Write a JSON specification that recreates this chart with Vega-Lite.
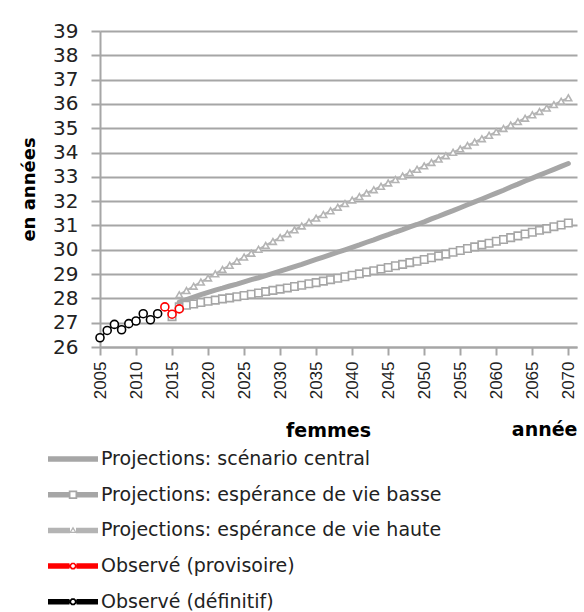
{
  "$schema": "https://vega.github.io/schema/vega-lite/v6.json",
  "width": 477,
  "height": 316,
  "autosize": {"type": "none"},
  "padding": {"left": 100, "top": 31, "right": 7, "bottom": 265},
  "background": "white",
  "title": {"text": "femmes", "orient": "bottom", "frame": "group", "anchor": "middle", "offset": 72, "dx": -10, "dy": -263, "font": "DejaVu Sans", "fontSize": 19, "fontWeight": "bold", "color": "black", "baseline": "top"},
  "config": {"view": {"stroke": null}},
  "datasets": {
    "central": [
      {"year": 2016, "value": 27.85}, {"year": 2017, "value": 27.95}, {"year": 2018, "value": 28.05}, {"year": 2019, "value": 28.15}, {"year": 2020, "value": 28.25},
      {"year": 2021, "value": 28.34}, {"year": 2022, "value": 28.42}, {"year": 2023, "value": 28.51}, {"year": 2024, "value": 28.59}, {"year": 2025, "value": 28.68},
      {"year": 2026, "value": 28.77}, {"year": 2027, "value": 28.85}, {"year": 2028, "value": 28.94}, {"year": 2029, "value": 29.03}, {"year": 2030, "value": 29.12},
      {"year": 2031, "value": 29.21}, {"year": 2032, "value": 29.31}, {"year": 2033, "value": 29.4}, {"year": 2034, "value": 29.5}, {"year": 2035, "value": 29.6},
      {"year": 2036, "value": 29.7}, {"year": 2037, "value": 29.8}, {"year": 2038, "value": 29.9}, {"year": 2039, "value": 30.0}, {"year": 2040, "value": 30.1},
      {"year": 2041, "value": 30.2}, {"year": 2042, "value": 30.31}, {"year": 2043, "value": 30.41}, {"year": 2044, "value": 30.52}, {"year": 2045, "value": 30.62},
      {"year": 2046, "value": 30.73}, {"year": 2047, "value": 30.83}, {"year": 2048, "value": 30.94}, {"year": 2049, "value": 31.04}, {"year": 2050, "value": 31.15},
      {"year": 2051, "value": 31.27}, {"year": 2052, "value": 31.38}, {"year": 2053, "value": 31.5}, {"year": 2054, "value": 31.61}, {"year": 2055, "value": 31.73},
      {"year": 2056, "value": 31.85}, {"year": 2057, "value": 31.97}, {"year": 2058, "value": 32.09}, {"year": 2059, "value": 32.21}, {"year": 2060, "value": 32.33},
      {"year": 2061, "value": 32.45}, {"year": 2062, "value": 32.58}, {"year": 2063, "value": 32.7}, {"year": 2064, "value": 32.83}, {"year": 2065, "value": 32.95},
      {"year": 2066, "value": 33.07}, {"year": 2067, "value": 33.19}, {"year": 2068, "value": 33.31}, {"year": 2069, "value": 33.43}, {"year": 2070, "value": 33.55}
    ],
    "basse": [
      {"year": 2015, "value": 27.25}, {"year": 2016, "value": 27.65}, {"year": 2017, "value": 27.72}, {"year": 2018, "value": 27.77}, {"year": 2019, "value": 27.83}, {"year": 2020, "value": 27.88},
      {"year": 2021, "value": 27.93}, {"year": 2022, "value": 27.98}, {"year": 2023, "value": 28.02}, {"year": 2024, "value": 28.07}, {"year": 2025, "value": 28.12},
      {"year": 2026, "value": 28.17}, {"year": 2027, "value": 28.22}, {"year": 2028, "value": 28.28}, {"year": 2029, "value": 28.33}, {"year": 2030, "value": 28.38},
      {"year": 2031, "value": 28.43}, {"year": 2032, "value": 28.49}, {"year": 2033, "value": 28.54}, {"year": 2034, "value": 28.6}, {"year": 2035, "value": 28.65},
      {"year": 2036, "value": 28.71}, {"year": 2037, "value": 28.77}, {"year": 2038, "value": 28.83}, {"year": 2039, "value": 28.89}, {"year": 2040, "value": 28.95},
      {"year": 2041, "value": 29.01}, {"year": 2042, "value": 29.08}, {"year": 2043, "value": 29.14}, {"year": 2044, "value": 29.21}, {"year": 2045, "value": 29.27},
      {"year": 2046, "value": 29.34}, {"year": 2047, "value": 29.4}, {"year": 2048, "value": 29.47}, {"year": 2049, "value": 29.53}, {"year": 2050, "value": 29.6},
      {"year": 2051, "value": 29.67}, {"year": 2052, "value": 29.75}, {"year": 2053, "value": 29.82}, {"year": 2054, "value": 29.9}, {"year": 2055, "value": 29.97},
      {"year": 2056, "value": 30.05}, {"year": 2057, "value": 30.12}, {"year": 2058, "value": 30.2}, {"year": 2059, "value": 30.27}, {"year": 2060, "value": 30.35},
      {"year": 2061, "value": 30.42}, {"year": 2062, "value": 30.5}, {"year": 2063, "value": 30.57}, {"year": 2064, "value": 30.65}, {"year": 2065, "value": 30.72},
      {"year": 2066, "value": 30.8}, {"year": 2067, "value": 30.87}, {"year": 2068, "value": 30.95}, {"year": 2069, "value": 31.02}, {"year": 2070, "value": 31.1}
    ],
    "haute": [
      {"year": 2016, "value": 28.15}, {"year": 2017, "value": 28.32}, {"year": 2018, "value": 28.5}, {"year": 2019, "value": 28.67}, {"year": 2020, "value": 28.84},
      {"year": 2021, "value": 29.01}, {"year": 2022, "value": 29.19}, {"year": 2023, "value": 29.36}, {"year": 2024, "value": 29.53}, {"year": 2025, "value": 29.7},
      {"year": 2026, "value": 29.86}, {"year": 2027, "value": 30.02}, {"year": 2028, "value": 30.18}, {"year": 2029, "value": 30.34}, {"year": 2030, "value": 30.5},
      {"year": 2031, "value": 30.66}, {"year": 2032, "value": 30.82}, {"year": 2033, "value": 30.98}, {"year": 2034, "value": 31.14}, {"year": 2035, "value": 31.3},
      {"year": 2036, "value": 31.45}, {"year": 2037, "value": 31.6}, {"year": 2038, "value": 31.75}, {"year": 2039, "value": 31.9}, {"year": 2040, "value": 32.05},
      {"year": 2041, "value": 32.19}, {"year": 2042, "value": 32.33}, {"year": 2043, "value": 32.47}, {"year": 2044, "value": 32.61}, {"year": 2045, "value": 32.75},
      {"year": 2046, "value": 32.89}, {"year": 2047, "value": 33.03}, {"year": 2048, "value": 33.17}, {"year": 2049, "value": 33.31}, {"year": 2050, "value": 33.45},
      {"year": 2051, "value": 33.59}, {"year": 2052, "value": 33.73}, {"year": 2053, "value": 33.87}, {"year": 2054, "value": 34.01}, {"year": 2055, "value": 34.15},
      {"year": 2056, "value": 34.29}, {"year": 2057, "value": 34.43}, {"year": 2058, "value": 34.57}, {"year": 2059, "value": 34.71}, {"year": 2060, "value": 34.85},
      {"year": 2061, "value": 34.99}, {"year": 2062, "value": 35.13}, {"year": 2063, "value": 35.27}, {"year": 2064, "value": 35.41}, {"year": 2065, "value": 35.55},
      {"year": 2066, "value": 35.69}, {"year": 2067, "value": 35.83}, {"year": 2068, "value": 35.97}, {"year": 2069, "value": 36.11}, {"year": 2070, "value": 36.25}
    ],
    "provisoire": [
      {"year": 2014, "value": 27.65}, {"year": 2015, "value": 27.35}, {"year": 2016, "value": 27.57}
    ],
    "definitif": [
      {"year": 2005, "value": 26.38}, {"year": 2006, "value": 26.68}, {"year": 2007, "value": 26.93}, {"year": 2008, "value": 26.71}, {"year": 2009, "value": 26.96},
      {"year": 2010, "value": 27.07}, {"year": 2011, "value": 27.37}, {"year": 2012, "value": 27.12}, {"year": 2013, "value": 27.37}
    ]
  },
  "encoding": {
    "x": {
      "field": "year", "type": "quantitative",
      "scale": {"domain": [2005, 2071.2], "nice": false, "zero": false},
      "axis": {
        "values": [2005, 2010, 2015, 2020, 2025, 2030, 2035, 2040, 2045, 2050, 2055, 2060, 2065, 2070],
        "format": "d", "labelAngle": -90, "grid": false,
        "labelFont": "Liberation Sans", "labelFontSize": 17, "labelColor": "#222222", "labelPadding": 6,
        "tickSize": 8, "tickColor": "#a6a6a6", "tickWidth": 2,
        "domainColor": "#a6a6a6", "domainWidth": 2,
        "title": "année", "titleFont": "DejaVu Sans", "titleFontSize": 19, "titleFontWeight": "bold", "titleColor": "black",
        "titleAnchor": "end", "titleAlign": "right", "titleBaseline": "alphabetic", "titleX": 477, "titleY": 88
      }
    },
    "y": {
      "field": "value", "type": "quantitative",
      "scale": {"domain": [26, 39], "nice": false, "zero": false},
      "axis": {
        "values": [26, 27, 28, 29, 30, 31, 32, 33, 34, 35, 36, 37, 38, 39],
        "labelFont": "DejaVu Sans", "labelFontSize": 20, "labelColor": "#222222", "labelPadding": 13,
        "tickSize": 9, "tickColor": "#a6a6a6", "tickWidth": 2,
        "domainColor": "#a6a6a6", "domainWidth": 2,
        "grid": true, "gridColor": "#a6a6a6", "gridWidth": 2,
        "title": "en années", "titleFont": "DejaVu Sans", "titleFontSize": 18, "titleFontWeight": "bold", "titleColor": "black", "titlePadding": 14
      }
    }
  },
  "layer": [
    {
      "data": {"name": "central"},
      "mark": {"type": "line", "strokeWidth": 5, "strokeCap": "round"},
      "encoding": {
        "color": {
          "datum": "Projections: scénario central",
          "scale": {
            "domain": ["Projections: scénario central", "Projections: espérance de vie basse", "Projections: espérance de vie haute", "Observé (provisoire)", "Observé (définitif)"],
            "range": ["#a6a6a6", "#a6a6a6", "#b4b4b4", "#ff0000", "#000000"]
          },
          "legend": {
            "orient": "none", "legendX": -36.5, "legendY": 418.5, "direction": "vertical", "title": null,
            "padding": 0, "rowPadding": 15.7, "labelOffset": 18.5, "labelLimit": 0,
            "labelFont": "DejaVu Sans", "labelFontSize": 19, "labelColor": "#222222",
            "symbolSize": 100, "symbolStrokeWidth": 0,
            "encode": {
              "symbols": {
                "update": {
                  "size": {"value": 100},
                  "strokeWidth": {"value": 0},
                  "opacity": {"value": 1},
                  "fill": {"signal": "scale('color', datum.value)"},
                  "shape": {"signal": "datum.value === 'Projections: scénario central' ? 'M-5,-0.55H5V0.55H-5Z' : datum.value === 'Projections: espérance de vie basse' ? 'M-5,-0.55H-0.85V0.55H-5ZM0.85,-0.55H5V0.55H0.85ZM-0.85,-0.85H0.85V0.85H-0.85ZM-0.5,-0.5V0.5H0.5V-0.5Z' : datum.value === 'Projections: espérance de vie haute' ? 'M-5,-0.55H-0.6V0.55H-5ZM0.6,-0.55H5V0.55H0.6ZM0,-0.8L0.75,0.5H-0.75ZM0,-0.25L-0.35,0.25H0.35Z' : 'M-5,-0.55H-0.7V0.55H-5ZM0.7,-0.55H5V0.55H0.7ZM0.693,0.287L0.287,0.693L-0.287,0.693L-0.693,0.287L-0.693,-0.287L-0.287,-0.693L0.287,-0.693L0.693,-0.287ZM0.351,-0.145L0.145,-0.351L-0.145,-0.351L-0.351,-0.145L-0.351,0.145L-0.145,0.351L0.145,0.351L0.351,0.145Z'"}
                }
              }
            }
          }
        }
      }
    },
    {
      "data": {"name": "basse"},
      "mark": {"type": "line", "strokeWidth": 2},
      "encoding": {"color": {"datum": "Projections: espérance de vie basse"}}
    },
    {
      "data": {"name": "basse"},
      "mark": {"type": "point", "shape": "square", "size": 56, "filled": true, "fill": "white", "stroke": "#a6a6a6", "strokeWidth": 1.6, "opacity": 1}
    },
    {
      "data": {"name": "haute"},
      "mark": {"type": "line", "strokeWidth": 2},
      "encoding": {"color": {"datum": "Projections: espérance de vie haute"}}
    },
    {
      "data": {"name": "haute"},
      "mark": {"type": "point", "shape": "triangle-up", "size": 45, "filled": true, "fill": "white", "stroke": "#b4b4b4", "strokeWidth": 1.6, "opacity": 1}
    },
    {
      "data": {"name": "definitif"},
      "mark": {"type": "line", "strokeWidth": 1.5},
      "encoding": {"color": {"datum": "Observé (définitif)"}}
    },
    {
      "data": {"name": "definitif"},
      "mark": {"type": "point", "shape": "circle", "size": 64, "filled": true, "fill": "white", "stroke": "#000000", "strokeWidth": 1.6, "opacity": 1}
    },
    {
      "data": {"name": "provisoire"},
      "mark": {"type": "line", "strokeWidth": 1.5},
      "encoding": {"color": {"datum": "Observé (provisoire)"}}
    },
    {
      "data": {"name": "provisoire"},
      "mark": {"type": "point", "shape": "circle", "size": 64, "filled": true, "fill": "white", "stroke": "#ff0000", "strokeWidth": 1.6, "opacity": 1}
    }
  ]
}
